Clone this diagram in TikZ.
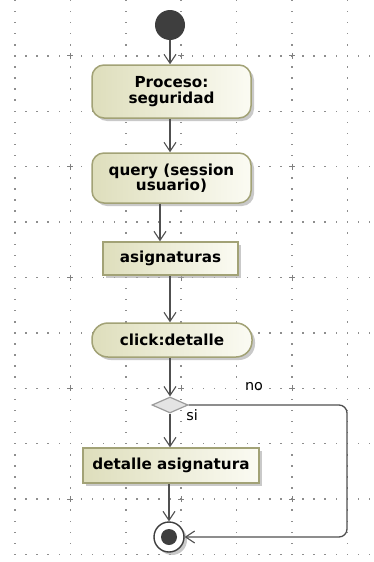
\documentclass[tikz,border=0pt]{standalone}
\usepackage{fontspec}
\setmainfont{DejaVu Sans}
\usetikzlibrary{arrows.meta,shapes.geometric,shadows}
\definecolor{gridc}{HTML}{8E8E8E}
\definecolor{crossc}{HTML}{808080}
\definecolor{linec}{HTML}{505050}
\definecolor{boxL}{HTML}{DEDEBC}
\definecolor{boxR}{HTML}{FBFBF3}
\definecolor{boxD}{HTML}{A2A276}
\definecolor{startc}{HTML}{3E3E3E}
\definecolor{diaF}{HTML}{E4E4E4}
\definecolor{diaD}{HTML}{9C9C9C}
\tikzset{
  actbox/.style={draw=boxD, line width=1.5pt, left color=boxL, right color=boxR,
    inner sep=0pt, align=center, text=black,
    font=\fontsize{15.2}{15.5}\selectfont\bfseries,
    drop shadow={shadow xshift=3pt, shadow yshift=-3pt, fill=black!35, opacity=.6}},
  roundact/.style={actbox, rounded corners=12pt},
  flow/.style={draw=linec, line width=1.3pt, -{Straight Barb[length=9pt,width=12pt,line width=1.1pt]}},
  lbl/.style={font=\fontsize{14.4}{15}\selectfont, inner sep=0pt, text=black}
}
\begin{document}
\begin{tikzpicture}[x=1pt,y=-1pt]
\useasboundingbox (0,0) rectangle (374,562);
\fill[white] (0,0) rectangle (374,562);
% grid
\foreach \k in {1,...,10} {
  \foreach \j in {0,...,32} {
    \fill[gridc] ({15+11.08*\j-0.75},{0.5+55.4*\k-0.75}) rectangle ++(1.5,1.5);
  }
}
\foreach \k in {0,...,6} {
  \foreach \j in {0,...,50} {
    \fill[gridc] ({15+55.4*\k-0.75},{0.5+11.08*\j-0.75}) rectangle ++(1.5,1.5);
  }
}
\foreach \i in {0,1,2} {
  \foreach \m in {0,...,4} {
    \draw[crossc, line width=1pt] ({15+55.4*(2*\i+1)-3},{0.5+55.4*(2*\m+1)}) -- ++(6,0);
    \draw[crossc, line width=1pt] ({15+55.4*(2*\i+1)},{0.5+55.4*(2*\m+1)-3}) -- ++(0,6);
  }
}
% nodes
\node[circle, fill=startc, minimum size=30pt, inner sep=0pt] (start) at (170,25) {};
\node[roundact, minimum width=159pt, minimum height=53pt] (proc) at (171.5,91.5) {Proceso:\\seguridad};
\node[roundact, minimum width=159pt, minimum height=50pt] (query) at (171.5,178) {query (session\\usuario)};
\node[actbox, minimum width=135pt, minimum height=33pt] (asig) at (170.5,258.5) {asignaturas};
\node[actbox, rounded corners=16pt, minimum width=160pt, minimum height=34pt] (click) at (172,340) {click:detalle};
\node[diamond, draw=diaD, fill=diaF, line width=1.2pt, minimum width=36pt, minimum height=16pt, inner sep=0pt] (dia) at (170,405) {};
\node[actbox, minimum width=176pt, minimum height=35pt] (det) at (171,465.5) {detalle asignatura};
\node[circle, draw=startc, fill=white, line width=1.4pt, minimum size=30pt, inner sep=0pt,
  drop shadow={shadow xshift=3pt, shadow yshift=-3pt, fill=black!35, opacity=.6}] (fin) at (169,537) {};
\fill[startc] (fin.center) circle (8);
\node[lbl] (no) at (254,387) {no};
\node[lbl] (si) at (192,415) {si};
% helper coordinates
\coordinate (qx) at (160,0);
\coordinate (cx) at (170,0);
\coordinate (loopx) at (347,0);
% connectors
\draw[flow] (start.south) -- (start.south |- proc.north);
\draw[flow] (proc.south -| cx) -- (query.north -| cx);
\draw[flow] (query.south -| qx) -- (asig.north -| qx);
\draw[flow] (asig.south -| cx) -- (click.north -| cx);
\draw[flow] (click.south -| cx) -- (dia.north);
\draw[flow] (dia.south) -- (det.north -| dia.south);
\draw[flow] (det.south -| fin.north) -- (fin.north);
\draw[flow, rounded corners=8pt] (dia.east) -- (dia.east -| loopx) -- (loopx |- fin.east) -- (fin.east);
\end{tikzpicture}
\end{document}
